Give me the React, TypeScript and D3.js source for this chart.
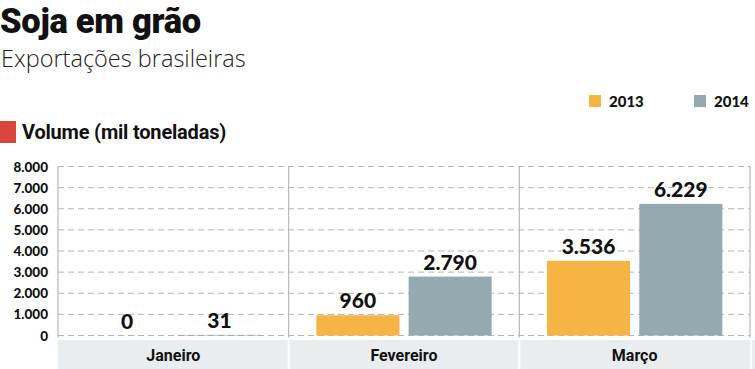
import React from 'react';
import * as d3 from 'd3';

const months = ['Janeiro', 'Fevereiro', 'Março'];
const years = ['2013', '2014'];
const values2013 = [0, 960, 3536];
const values2014 = [31, 2790, 6229];
const yTicks = [0, 1000, 2000, 3000, 4000, 5000, 6000, 7000, 8000];

const colors: Record<string, string> = { '2013': '#f6b445', '2014': '#94a9b0' };

const W = 755;
const H = 369;
const plot = { left: 58, right: 750, top: 166.5, bottom: 335.5 };

const fmt = (v: number) => d3.format(',')(v).replace(/,/g, '.');

const App: React.FC = () => {
  const x = d3.scaleBand<string>().domain(months).range([plot.left, plot.right]);
  const y = d3.scaleLinear().domain([0, 8000]).range([plot.bottom, plot.top]);
  const inner = d3.scaleBand<string>()
    .domain(years)
    .range([x.bandwidth() * 0.12, x.bandwidth() * 0.88])
    .paddingInner(0.1);

  const series = [values2013, values2014];

  return (
    <svg width={W} height={H} style={{ position: 'absolute', left: 0, top: 0, background: '#fff' }}>
      {/* title */}
      <text x={0} y={33} fontFamily="Roboto" fontWeight={900} fontSize={34.5} fill="#111" letterSpacing={-0.3}>Soja em grão</text>
      <text x={1} y={67} fontFamily="Open Sans" fontWeight={300} fontSize={23.5} fill="#222">Exportações brasileiras</text>

      {/* legend */}
      {years.map((yr, i) => (
        <g key={yr} transform={`translate(${589 + i * 105},95)`}>
          <rect x={0} y={0} width={12} height={12} fill={colors[yr]} />
          <text x={20} y={12} fontFamily="Lato" fontWeight={900} fontSize={15} fill="#111">{yr}</text>
        </g>
      ))}

      {/* section header */}
      <rect x={0} y={121} width={16} height={22} fill="#d9463b" />
      <text x={22} y={139} fontFamily="Roboto" fontWeight={700} fontSize={20} fill="#111" letterSpacing={-0.2}>Volume (mil toneladas)</text>

      {/* category band */}
      <rect x={plot.left} y={340} width={W - plot.left} height={H - 340} fill="#e9edef" />
      {months.map((m, i) => i > 0 ? (
        <line key={m} x1={x(m)!} x2={x(m)!} y1={340} y2={H} stroke="#fff" strokeWidth={2} />
      ) : null)}
      <line x1={plot.right + 1} x2={plot.right + 1} y1={340} y2={H} stroke="#fff" strokeWidth={2} />

      {/* grid */}
      {yTicks.map(t => (
        <line key={t} x1={plot.left} x2={plot.right} y1={y(t)} y2={y(t)}
          stroke="#b4b4b4" strokeWidth={1} strokeDasharray="6,4" />
      ))}

      {/* panel dividers */}
      {months.map(m => (
        <line key={m} x1={x(m)!} x2={x(m)!} y1={plot.top} y2={plot.bottom + 2} stroke="#b8b8b8" strokeWidth={1.2} />
      ))}
      <line x1={plot.right} x2={plot.right} y1={plot.top} y2={plot.bottom + 2} stroke="#b8b8b8" strokeWidth={1.2} />

      {/* y labels */}
      {yTicks.map(t => (
        <text key={t} x={48} y={y(t) + 5} textAnchor="end" fontFamily="Lato" fontWeight={900} fontSize={13.5} fill="#111">{fmt(t)}</text>
      ))}

      {/* bars */}
      {months.map((m, mi) => (
        <g key={m} transform={`translate(${x(m)},0)`}>
          {years.map((yr, yi) => {
            const v = series[yi][mi];
            const bx = inner(yr)!;
            return (
              <g key={yr}>
                <rect x={bx} y={y(v)} width={inner.bandwidth()} height={plot.bottom - y(v)} fill={colors[yr]} />
                <text x={bx + inner.bandwidth() / 2} y={y(v) - 7} textAnchor="middle"
                  fontFamily="Lato" fontWeight={900} fontSize={21} fill="#111">{fmt(v)}</text>
              </g>
            );
          })}
          <text x={x.bandwidth() / 2} y={361} textAnchor="middle" fontFamily="Roboto" fontWeight={700} fontSize={16} fill="#111">{m}</text>
        </g>
      ))}
    </svg>
  );
};

export default App;
